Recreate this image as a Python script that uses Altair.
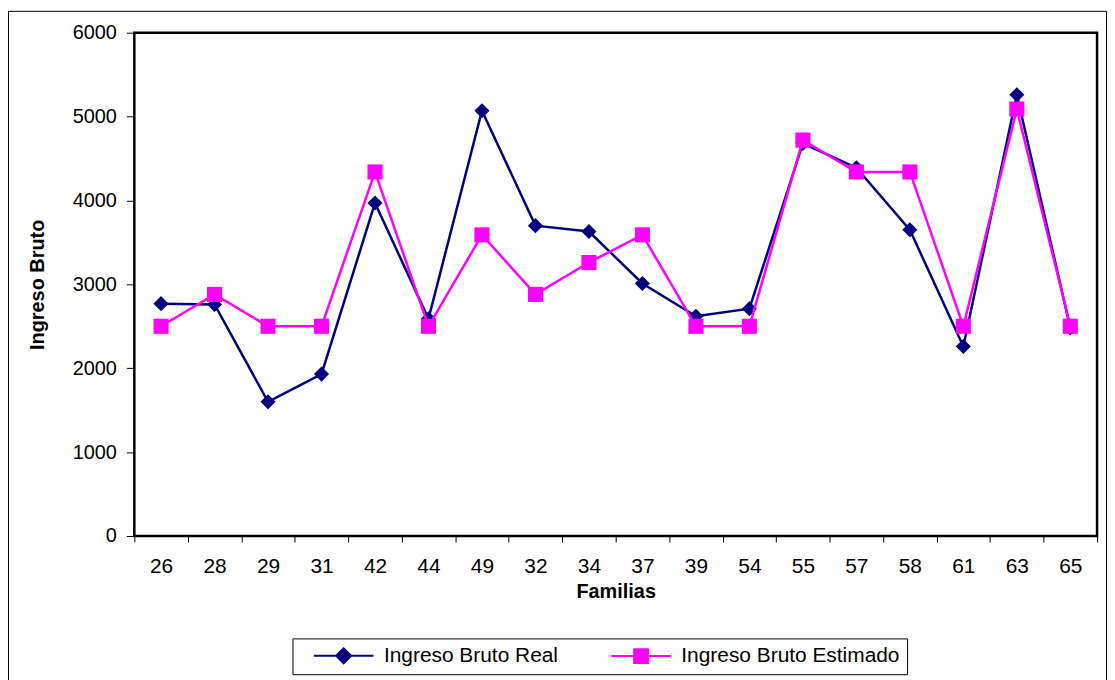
import altair as alt
import pandas as pd

familias = ["26", "28", "29", "31", "42", "44", "49", "32", "34", "37",
            "39", "54", "55", "57", "58", "61", "63", "65"]
real = [2770, 2760, 1600, 1930, 3970, 2590, 5070, 3700, 3630, 3010,
        2620, 2710, 4680, 4390, 3650, 2260, 5260, 2480]
estimado = [2500, 2880, 2500, 2500, 4340, 2500, 3590, 2880, 3260, 3590,
            2500, 2500, 4720, 4340, 4340, 2500, 5090, 2500]
series_names = ["Ingreso Bruto Real", "Ingreso Bruto Estimado"]
series_colors = ["#000080", "#FF00FF"]

rows = []
for f, r in zip(familias, real):
    rows.append({"Familias": f, "serie": series_names[0], "valor": r})
for f, e in zip(familias, estimado):
    rows.append({"Familias": f, "serie": series_names[1], "valor": e})
df = pd.DataFrame(rows)

FONT = "Liberation Sans"

diamond_path = "M-4,0L4,0M-1,0L0,-1L1,0L0,1Z"
square_path = "M-4,0L4,0M-0.93,-0.93L0.93,-0.93L0.93,0.93L-0.93,0.93Z"

x_enc = alt.X(
    "Familias:N",
    sort=familias,
    bandPosition=0.5,
    scale=alt.Scale(type="band", paddingInner=0, paddingOuter=0),
    axis=alt.Axis(
        title="Familias", labelAngle=0, domain=False, tickBand="extent",
        tickSize=6, tickColor="black", tickWidth=1, labelPadding=14, titlePadding=5,
        labelFontSize=21, titleFontSize=20, labelFont=FONT, titleFont=FONT,
        labelColor="black", titleColor="black", titleFontWeight="bold",
    ),
)
y_enc = alt.Y(
    "valor:Q",
    scale=alt.Scale(domain=[0, 6000], nice=False, zero=True),
    axis=alt.Axis(
        title="Ingreso Bruto", values=[0, 1000, 2000, 3000, 4000, 5000, 6000],
        format="d", grid=False, domain=False, tickSize=8, tickColor="black",
        tickWidth=1, labelPadding=10, titlePadding=25, labelFontSize=20,
        titleFontSize=20, labelFont=FONT, titleFont=FONT, labelColor="black",
        titleColor="black", titleFontWeight="bold",
    ),
)

legend = alt.Legend(
    title=None, orient="none", legendX=159, legendY=609, direction="horizontal",
    strokeColor="black", fillColor="white", padding=7, columnPadding=38,
    symbolSize=225, symbolOffset=34, labelOffset=30, labelFontSize=21,
    labelLimit=500, labelFont=FONT, labelColor="black", symbolStrokeWidth=2,
    symbolOpacity=1,
)

base = alt.Chart(df)

layers = []
for name, shape, col in zip(series_names, ["diamond", "square"], series_colors):
    sub = base.transform_filter(alt.datum.serie == name)
    line = sub.mark_line(strokeWidth=2.5, color=col).encode(x=x_enc, y=y_enc)
    pts = sub.mark_point(shape=shape, filled=True, size=230, opacity=1, color=col).encode(
        x=x_enc, y=y_enc
    )
    layers += [line, pts]

# legend-only layer (invisible marks) carrying the series -> colour/shape mapping
legend_layer = base.mark_point(size=0, filled=True, strokeWidth=2).encode(
    x=x_enc,
    y=y_enc,
    fill=alt.Fill("serie:N", scale=alt.Scale(domain=series_names, range=series_colors), legend=legend),
    stroke=alt.Stroke("serie:N", scale=alt.Scale(domain=series_names, range=series_colors), legend=legend),
    shape=alt.Shape("serie:N", scale=alt.Scale(domain=series_names, range=[diamond_path, square_path]), legend=legend),
)

one = alt.Chart(pd.DataFrame({"a": [0]}))
outer_border = one.mark_rect(fill=None, stroke="black", strokeWidth=1).encode(
    x=alt.value(-126.5), x2=alt.value(977.5), y=alt.value(-21.5), y2=alt.value(700)
)
plot_border = one.mark_rect(fill=None, stroke="black", strokeWidth=2.5).encode(
    x=alt.value(0), x2=alt.value(968), y=alt.value(0), y2=alt.value(506)
)

chart = alt.layer(outer_border, legend_layer, *layers, plot_border).properties(
    width=968,
    height=506,
    autosize="none",
    padding={"left": 127, "top": 23, "right": 10, "bottom": 151},
).configure_view(stroke=None).configure(background="white")

chart.save("out.html", embed_options={"renderer": "svg", "actions": False})
